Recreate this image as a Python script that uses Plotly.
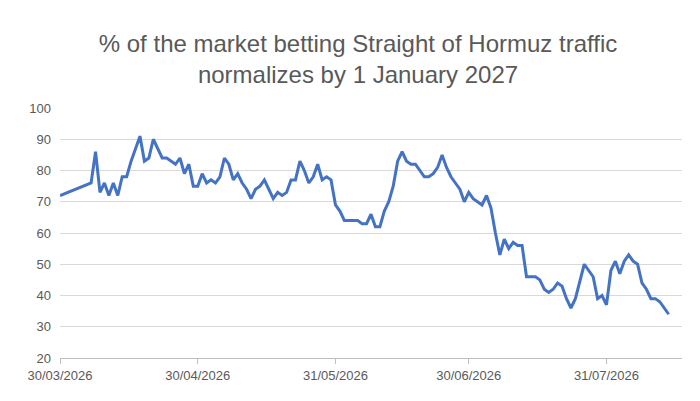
import plotly.graph_objects as go
import pandas as pd

# days since 30/03/2026 and % of market betting on normalization
day_offsets = [0] + list(range(7, 138))
pct_values = [
    72, 76,
    86, 73, 76, 72, 76, 72, 78, 78, 83, 87,
    91, 83, 84, 90, 87, 84, 84, 83, 82, 84,
    79, 82, 75, 75, 79, 76, 77, 76, 78, 84,
    82, 77, 79, 76, 74, 71, 74, 75, 77, 74,
    71, 73, 72, 73, 77, 77, 83, 80, 76, 78,
    82, 77, 78, 77, 69, 67, 64, 64, 64, 64,
    63, 63, 66, 62, 62, 67, 70, 75, 83, 86,
    83, 82, 82, 80, 78, 78, 79, 81, 85, 81,
    78, 76, 74, 70, 73, 71, 70, 69, 72, 68,
    60, 53, 58, 55, 57, 56, 56, 46, 46, 46,
    45, 42, 41, 42, 44, 43, 39, 36, 39, 45,
    50, 48, 46, 39, 40, 37, 48, 51, 47, 51,
    53, 51, 50, 44, 42, 39, 39, 38, 36, 34,
]
tick_dates = ["2026-03-30", "2026-04-30", "2026-05-31", "2026-06-30", "2026-07-31"]
tick_labels = ["30/03/2026", "30/04/2026", "31/05/2026", "30/06/2026", "31/07/2026"]

start = pd.Timestamp("2026-03-30")
dates = [start + pd.Timedelta(days=d) for d in day_offsets]

fig = go.Figure(go.Scatter(
    x=dates, y=pct_values, mode="lines",
    line=dict(color="#4472C4", width=3),
))

fig.update_layout(
    width=700, height=401,
    margin=dict(l=52, r=26, t=100, b=51),
    paper_bgcolor="white", plot_bgcolor="white",
    font=dict(family="Liberation Sans, Arial", size=13, color="#595959"),
    title=dict(
        text="% of the market betting Straight of Hormuz traffic<br>normalizes by 1 January 2027",
        x=0.5, xanchor="center", y=0.89, yanchor="top",
        font=dict(size=24, color="#595959"),
    ),
    showlegend=False,
    xaxis=dict(
        range=[start, start + pd.Timedelta(days=140)],
        tickvals=tick_dates, ticktext=tick_labels,
        showgrid=False, showline=True, linecolor="#bfbfbf", linewidth=1,
        ticks="outside", tickcolor="#bfbfbf", ticklen=5,
    ),
    yaxis=dict(
        range=[20, 100], dtick=10,
        showgrid=True, gridcolor="#d9d9d9", zeroline=False,
        ticks="", ticklabelstandoff=8,
    ),
)

fig.write_html("out.html")
